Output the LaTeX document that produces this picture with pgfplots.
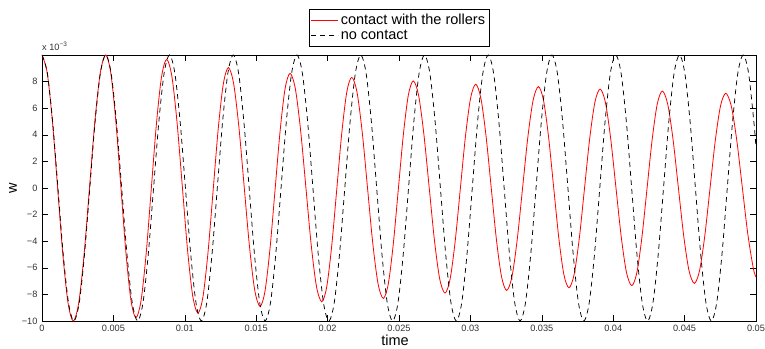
\documentclass[border=0pt]{standalone}
\usepackage{fontspec}
\setmainfont{Liberation Sans}
\usepackage{pgfplots}
\usepackage{pgfplotstable}
\pgfplotsset{compat=1.18}

\pgfplotstableread{
t w
0 10
0.000365 8.66
0.00073 5
0.001095 0
0.00146 -5
0.001825 -8.66
0.00219 -10
0.002568 -8.66
0.002947 -5
0.003325 0
0.003703 5
0.004082 8.66
0.00446 10
0.004813 8.68
0.005167 5.06
0.00552 0.13
0.005873 -4.81
0.006227 -8.43
0.00658 -9.75
0.006938 -8.45
0.007297 -4.90
0.007655 -0.04
0.008013 4.82
0.008372 8.37
0.00873 9.67
0.009095 8.39
0.00946 4.90
0.009825 0.14
0.01019 -4.63
0.010555 -8.12
0.01092 -9.4
0.011275 -8.16
0.01163 -4.79
0.011985 -0.18
0.01234 4.44
0.012695 7.81
0.01305 9.05
0.01342 7.85
0.01379 4.56
0.01416 0.08
0.01453 -4.41
0.0149 -7.70
0.01527 -8.9
0.01562 -7.73
0.01597 -4.52
0.01632 -0.14
0.01667 4.24
0.01702 7.45
0.01737 8.62
0.01774 7.47
0.01811 4.33
0.01848 0.04
0.01885 -4.26
0.01922 -7.40
0.01959 -8.55
0.01994 -7.42
0.02029 -4.33
0.02064 -0.12
0.02099 4.10
0.02134 7.19
0.02169 8.32
0.022058 7.21
0.022427 4.17
0.022795 0.01
0.023163 -4.15
0.023532 -7.19
0.0239 -8.3
0.02425 -7.21
0.0246 -4.21
0.02495 -0.13
0.0253 3.96
0.02565 6.96
0.026 8.05
0.02637 6.98
0.02674 4.06
0.02711 0.08
0.02748 -3.91
0.02785 -6.83
0.02822 -7.9
0.028578 -6.85
0.028937 -3.98
0.029295 -0.05
0.029653 3.88
0.030012 6.75
0.03037 7.8
0.030732 6.76
0.031093 3.93
0.031455 0.05
0.031817 -3.83
0.032178 -6.66
0.03254 -7.7
0.03291 -6.67
0.03328 -3.87
0.03365 -0.04
0.03402 3.79
0.03439 6.59
0.03476 7.62
0.035117 6.61
0.035473 3.84
0.03583 0.06
0.036187 -3.72
0.036543 -6.49
0.0369 -7.5
0.037263 -6.50
0.037627 -3.77
0.03799 -0.03
0.038353 3.71
0.038717 6.44
0.03908 7.44
0.03945 6.45
0.03982 3.75
0.04019 0.05
0.04056 -3.65
0.04093 -6.35
0.0413 -7.34
0.041657 -6.36
0.042013 -3.68
0.04237 -0.03
0.042727 3.63
0.043083 6.31
0.04344 7.29
0.043813 6.32
0.044187 3.68
0.04456 0.06
0.044933 -3.56
0.045307 -6.20
0.04568 -7.17
0.046047 -6.21
0.046413 -3.60
0.04678 -0.03
0.047147 3.55
0.047513 6.16
0.04788 7.12
0.048267 6.17
0.048653 3.59
0.04904 0.06
0.049427 -3.47
0.049813 -6.05
0.05 -6.7
}\contact

\pgfplotstableread{
t w
0 10
0.000372 8.66
0.000744 5
0.001116 0
0.001488 -5
0.00186 -8.66
0.002232 -10
0.002604 -8.66
0.002976 -5
0.003348 0
0.00372 5
0.004092 8.66
0.004464 10
0.004836 8.66
0.005208 5
0.00558 0
0.005952 -5
0.006324 -8.66
0.006696 -10
0.007068 -8.66
0.00744 -5
0.007812 0
0.008184 5
0.008556 8.66
0.008928 10
0.0093 8.66
0.009672 5
0.010044 0
0.010416 -5
0.010788 -8.66
0.01116 -10
0.011532 -8.66
0.011904 -5
0.012276 0
0.012648 5
0.01302 8.66
0.013392 10
0.013764 8.66
0.014136 5
0.014508 0
0.01488 -5
0.015252 -8.66
0.015624 -10
0.015996 -8.66
0.016368 -5
0.01674 0
0.017112 5
0.017484 8.66
0.017856 10
0.018228 8.66
0.0186 5
0.018972 0
0.019344 -5
0.019716 -8.66
0.020088 -10
0.02046 -8.66
0.020832 -5
0.021204 0
0.021576 5
0.021948 8.66
0.02232 10
0.022692 8.66
0.023064 5
0.023436 0
0.023808 -5
0.02418 -8.66
0.024552 -10
0.024924 -8.66
0.025296 -5
0.025668 0
0.02604 5
0.026412 8.66
0.026784 10
0.027156 8.66
0.027528 5
0.0279 0
0.028272 -5
0.028644 -8.66
0.029016 -10
0.029388 -8.66
0.02976 -5
0.030132 0
0.030504 5
0.030876 8.66
0.031248 10
0.03162 8.66
0.031992 5
0.032364 0
0.032736 -5
0.033108 -8.66
0.03348 -10
0.033852 -8.66
0.034224 -5
0.034596 0
0.034968 5
0.03534 8.66
0.035712 10
0.036084 8.66
0.036456 5
0.036828 0
0.0372 -5
0.037572 -8.66
0.037944 -10
0.038316 -8.66
0.038688 -5
0.03906 0
0.039432 5
0.039804 8.66
0.040176 10
0.040548 8.66
0.04092 5
0.041292 0
0.041664 -5
0.042036 -8.66
0.042408 -10
0.04278 -8.66
0.043152 -5
0.043524 0
0.043896 5
0.044268 8.66
0.04464 10
0.045012 8.66
0.045384 5
0.045756 0
0.046128 -5
0.0465 -8.66
0.046872 -10
0.047244 -8.66
0.047616 -5
0.047988 0
0.04836 5
0.048732 8.66
0.049104 10
0.049476 8.66
0.049848 5
0.05 3.04
}\nocontact

\begin{document}
\begin{tikzpicture}
\path[use as bounding box] (-42pt,-27pt) rectangle (723pt,321pt);
\begin{axis}[
  scale only axis,
  width=714pt, height=266pt,
  xmin=0, xmax=0.05, ymin=-10, ymax=10,
  axis line style={black, line width=0.7pt},
  major tick length=6pt,
  tick style={black, line width=0.6pt},
  scaled x ticks=false, scaled y ticks=false,
  xtick={0,0.005,0.01,0.015,0.02,0.025,0.03,0.035,0.04,0.045,0.05},
  xticklabels={0,0.005,0.01,0.015,0.02,0.025,0.03,0.035,0.04,0.045,0.05},
  ytick={-10,-8,-6,-4,-2,0,2,4,6,8},
  yticklabels={−10,−8,−6,−4,−2,0,2,4,6,8},
  tick label style={font=\fontsize{9.2}{11}\selectfont, text=black!80},
  xticklabel style={yshift=-1pt},
  yticklabel style={xshift=-1pt},
  xlabel={time},
  ylabel={w},
  label style={font=\fontsize{14.5}{16}\selectfont},
  xlabel style={at={(rel axis cs:0.5,0)}, anchor=center, yshift=-19pt, xshift=-4pt},
  ylabel style={at={(rel axis cs:0,0.5)}, anchor=center, yshift=29pt},
  legend style={at={(rel axis cs:0.5,1)}, anchor=south, yshift=9pt,
    font=\fontsize{14.5}{17}\selectfont,
    inner xsep=2pt, inner ysep=3pt, row sep=0pt},
  legend cell align=left,
  legend image code/.code={\draw[#1] (0pt,0pt) -- (27pt,0pt);},
  clip mode=individual,
]
\addplot[draw=red, line width=0.8pt, smooth] table[x=t,y=w] {\contact};
\addlegendentry{contact with the rollers}
\addplot[draw=black, line width=0.75pt, dash pattern=on 5pt off 4pt, smooth] table[x=t,y=w] {\nocontact};
\addlegendentry{no contact}
\node[anchor=south west, font=\fontsize{9.2}{11}\selectfont, inner sep=0pt, text=black!80] at (rel axis cs:0,1) [yshift=4pt] {x 10\textsuperscript{−3}};
\end{axis}
\end{tikzpicture}
\end{document}
